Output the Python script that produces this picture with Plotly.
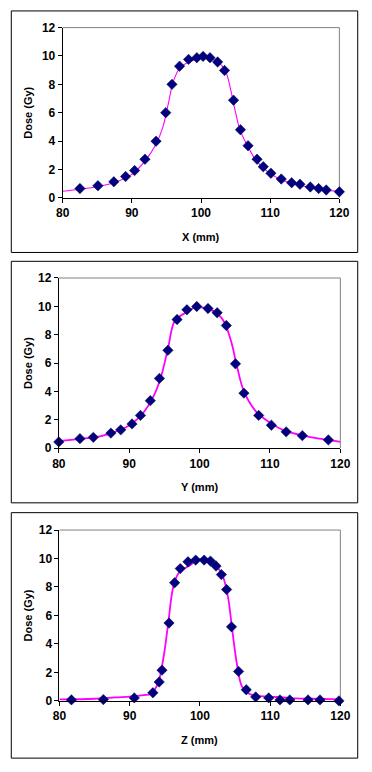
import plotly.graph_objects as go

# ---------------- data ----------------
# X profile (measured points)
x_pos = [82.5, 85.1, 87.4, 89.1, 90.4, 91.9, 93.5, 94.9, 95.8, 96.9, 98.2, 99.4, 100.3,
         101.3, 102.4, 103.4, 104.7, 105.7, 106.8, 108.1, 109.0, 110.1, 111.6, 113.1,
         114.3, 115.8, 117.0, 118.1, 120.0]
x_dose = [0.65, 0.85, 1.13, 1.5, 1.92, 2.72, 3.99, 6.0, 8.0, 9.28, 9.76, 9.88, 9.97,
          9.88, 9.58, 8.98, 6.88, 4.8, 3.67, 2.72, 2.19, 1.73, 1.32, 1.06,
          0.95, 0.76, 0.65, 0.55, 0.42]
# X profile (fitted curve)
x_fit_pos = [80, 82.5, 85, 87.5, 90, 92, 93.5, 94.5, 95.3, 96, 97, 98.5, 100, 101.5,
             102.5, 103.5, 104.3, 105, 105.7, 106.8, 108, 110, 112, 115, 118, 120]
x_fit_dose = [0.46, 0.6, 0.78, 1.08, 1.65, 2.65, 3.8, 5.0, 6.7, 8.2, 9.2, 9.62, 9.85, 9.8,
              9.55, 9.0, 7.6, 6.0, 4.7, 3.6, 2.6, 1.7, 1.2, 0.8, 0.55, 0.45]

# Y profile (measured points)
y_pos = [80.0, 83.0, 84.9, 87.4, 88.8, 90.4, 91.6, 93.0, 94.3, 95.5, 96.8, 98.2, 99.6,
         101.2, 102.5, 103.8, 105.1, 106.3, 108.4, 110.2, 112.3, 114.6, 118.3]
y_dose = [0.44, 0.67, 0.76, 1.06, 1.29, 1.71, 2.31, 3.35, 4.92, 6.9, 9.07, 9.76, 9.99,
          9.85, 9.55, 8.65, 5.95, 3.88, 2.31, 1.62, 1.15, 0.88, 0.58]
# Y profile (fitted curve)
y_fit_pos = [80, 83, 86, 88, 90, 92, 93.5, 94.5, 95.5, 96.5, 98, 99.5, 101, 102.5,
             103.5, 104.5, 105.3, 106.3, 108, 110, 112, 115, 118, 120]
y_fit_dose = [0.5, 0.65, 0.85, 1.15, 1.6, 2.5, 3.7, 5.0, 7.0, 9.0, 9.55, 9.95, 9.85, 9.5,
              8.9, 7.5, 5.8, 4.0, 2.6, 1.8, 1.25, 0.85, 0.6, 0.45]

# Z profile (measured points)
z_pos = [81.7, 86.25, 90.65, 93.3, 94.2, 94.6, 95.6, 96.4, 97.2, 98.3, 99.4, 100.6,
         101.5, 102.3, 103.06, 103.8, 104.5, 105.5, 106.6, 107.95, 109.8, 111.4, 112.8,
         115.4, 117.1, 119.8]
z_dose = [0.07, 0.09, 0.21, 0.57, 1.33, 2.16, 5.47, 8.3, 9.29, 9.77, 9.89, 9.89,
          9.82, 9.47, 8.87, 7.82, 5.2, 2.07, 0.78, 0.28, 0.21, 0.07, 0.07,
          0.07, 0.07, 0.0]
# Z profile (fitted curve)
z_fit_pos = [80, 85, 88, 90, 92, 93, 94, 94.8, 95.5, 96.2, 97, 98.5, 100, 101.5, 102.5,
             103.3, 104, 104.6, 105.3, 106, 107, 108, 110, 113, 116, 120]
z_fit_dose = [0.1, 0.15, 0.25, 0.3, 0.4, 0.5, 1.2, 3.0, 5.5, 8.0, 9.0, 9.5, 9.95, 9.75, 9.4,
              8.7, 7.3, 5.0, 2.5, 1.0, 0.5, 0.35, 0.3, 0.2, 0.15, 0.1]

axis_titles = ["X (mm)", "Y (mm)", "Z (mm)"]
dose_title = "Dose (Gy)"

# ---------------- layout geometry (pixels) ----------------
W, H = 372, 772
panels = [
    dict(pa=(58.3, 348.3, 21.0, 194.3), frame=(4, 250), lw=1.1,
         pts=(x_pos, x_dose), fit=(x_fit_pos, x_fit_dose)),
    dict(pa=(54.3, 349.3, 276.0, 449.3), frame=(259, 505), lw=1.8,
         pts=(y_pos, y_dose), fit=(y_fit_pos, y_fit_dose)),
    dict(pa=(55.0, 349.3, 532.7, 706.7), frame=(515, 765), lw=1.8,
         pts=(z_pos, z_dose), fit=(z_fit_pos, z_fit_dose)),
]

fig = go.Figure()
font_fam = "Liberation Sans, Arial, sans-serif"
shapes = []
annotations = []

for i, p in enumerate(panels):
    n = "" if i == 0 else str(i + 1)
    xa, ya = "x" + n, "y" + n
    l, r, t, b = p["pa"]
    fig.add_trace(go.Scatter(
        x=p["fit"][0], y=p["fit"][1], mode="lines",
        line=dict(color="#FF00FF", width=p["lw"], shape="spline", smoothing=1.0),
        xaxis=xa, yaxis=ya, showlegend=False, hoverinfo="skip"))
    fig.add_trace(go.Scatter(
        x=p["pts"][0], y=p["pts"][1], mode="markers",
        marker=dict(symbol="diamond", size=8, color="#000080",
                    line=dict(color="#000040", width=0.5)),
        xaxis=xa, yaxis=ya, showlegend=False, cliponaxis=False))

    axis_common = dict(showgrid=False, zeroline=False, showline=True, linecolor="black",
                       linewidth=1, ticks="outside", ticklen=4, tickcolor="black",
                       tickwidth=1,
                       tickfont=dict(family=font_fam, size=12, color="black", weight="bold"))
    fig.layout["xaxis" + n] = dict(
        domain=[l / W, r / W], range=[80, 120], dtick=10, tick0=80,
        anchor=ya, **axis_common)
    fig.layout["yaxis" + n] = dict(
        domain=[1 - b / H, 1 - t / H], range=[0, 12], dtick=2, tick0=0,
        anchor=xa, **axis_common)

    shapes.append(dict(type="line", xref="paper", yref="paper",
                       x0=l / W, x1=r / W, y0=1 - t / H, y1=1 - t / H,
                       line=dict(color="#808080", width=1), layer="below"))
    shapes.append(dict(type="line", xref="paper", yref="paper",
                       x0=r / W, x1=r / W, y0=1 - t / H, y1=1 - b / H,
                       line=dict(color="#808080", width=1), layer="below"))
    ft, fb = p["frame"]
    shapes.append(dict(type="rect", xref="paper", yref="paper",
                       x0=4.5 / W, x1=367.5 / W, y0=1 - fb / H, y1=1 - ft / H,
                       line=dict(color="black", width=1), layer="below"))
    annotations.append(dict(text=axis_titles[i], xref="paper", yref="paper",
                            x=(l + r) / 2 / W, y=1 - (b + 40) / H,
                            showarrow=False, xanchor="center", yanchor="middle",
                            font=dict(family=font_fam, size=11, color="black", weight="bold")))
    annotations.append(dict(text=dose_title, xref="paper", yref="paper",
                            x=22 / W, y=1 - (t + b) / 2 / H, textangle=-90,
                            showarrow=False, xanchor="center", yanchor="middle",
                            font=dict(family=font_fam, size=11, color="black", weight="bold")))

fig.update_layout(
    width=W, height=H, autosize=False,
    margin=dict(l=0, r=0, t=0, b=0),
    paper_bgcolor="white", plot_bgcolor="white",
    shapes=shapes, annotations=annotations,
)

fig.write_html("out.html", config={"displayModeBar": False},
               post_script="document.body.style.margin='0';"
                           "document.body.style.overflow='hidden';")
